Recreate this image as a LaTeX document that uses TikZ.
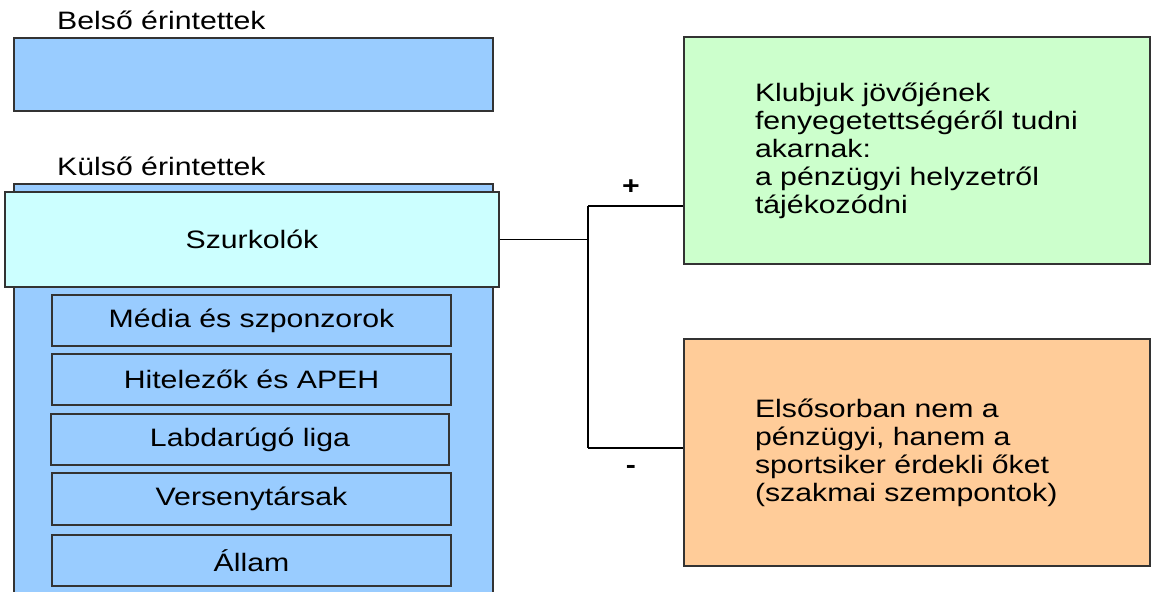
\documentclass[tikz,border=0pt]{standalone}
\usepackage{fontspec}
\setmainfont{Liberation Sans}[FakeStretch=1.2]
\definecolor{blueF}{HTML}{99CCFF}
\definecolor{cyanF}{HTML}{CCFFFF}
\definecolor{greenF}{HTML}{CCFFCC}
\definecolor{orangeF}{HTML}{FFCC99}
\definecolor{edge}{HTML}{333333}
\tikzset{
  box/.style={draw=edge, line width=1.2pt, rectangle, inner sep=0pt},
  lbl/.style={inner sep=0pt, anchor=base west},
  conn/.style={draw=black, line width=1.2pt},
  sign/.style={inner sep=0pt},
}
\begin{document}
\begin{tikzpicture}[x=1pt,y=-1pt,font=\fontsize{25.2}{28}\selectfont]
\clip (0,0) rectangle (1152,592);
\fill[white] (0,0) rectangle (1152,592);
% labels
\node[lbl] (lb) at (57,29) {Belső érintettek};
\node[lbl] (lk) at (57,175.5) {Külső érintettek};
% inner stakeholders box
\node[box, fill=blueF, minimum width=479, minimum height=73] (belso) at (253.5,74.5) {};
% outer stakeholders box (runs past the bottom edge)
\node[box, fill=blueF, minimum width=479, minimum height=420] (kulso) at (253.5,394) {};
\node[box, fill=cyanF, minimum width=494, minimum height=95] (sz) at (252,239.5) {Szurkolók};
\node[box, fill=blueF, minimum width=399, minimum height=51] (media) at (251.5,320.5) {Média és szponzorok};
\node[box, fill=blueF, minimum width=399, minimum height=51] (hitel) at (251.5,379.5) {Hitelezők és APEH};
\node[box, fill=blueF, minimum width=398, minimum height=51] (liga) at (250,439.5) {Labdarúgó liga};
\node[box, fill=blueF, minimum width=399, minimum height=52] (verseny) at (251.5,499) {Versenytársak};
\node[box, fill=blueF, minimum width=399, minimum height=51] (allam) at (251.5,560.5) {Állam};
% right boxes
\node[box, fill=greenF, minimum width=466, minimum height=227, text width=324, align=left] (green) at (917,150.5)
  {\mbox{Klubjuk jövőjének}\\\mbox{fenyegetettségéről tudni}\\\mbox{akarnak:}\\\mbox{a pénzügyi helyzetről}\\\mbox{tájékozódni}};
\node[box, fill=orangeF, minimum width=466, minimum height=227, text width=324, align=left] (orange) at (917,452.5)
  {\mbox{Elsősorban nem a}\\\mbox{pénzügyi, hanem a}\\\mbox{sportsiker érdekli őket}\\\mbox{(szakmai szempontok)}};
% connectors
\coordinate (jt) at (588,206);
\coordinate (jb) at (588,448);
\draw[conn] (sz.east) -- (sz.east -| jt);
\draw[conn] (jt) -- (jb);
\draw[conn] (jt) -- (jt -| green.west);
\draw[conn] (jb) -- (jb -| orange.west);
\node[sign] (plus) at (631,187) {\textbf{+}};
\node[sign] (minus) at (631,469) {\textbf{-}};
\end{tikzpicture}
\end{document}
